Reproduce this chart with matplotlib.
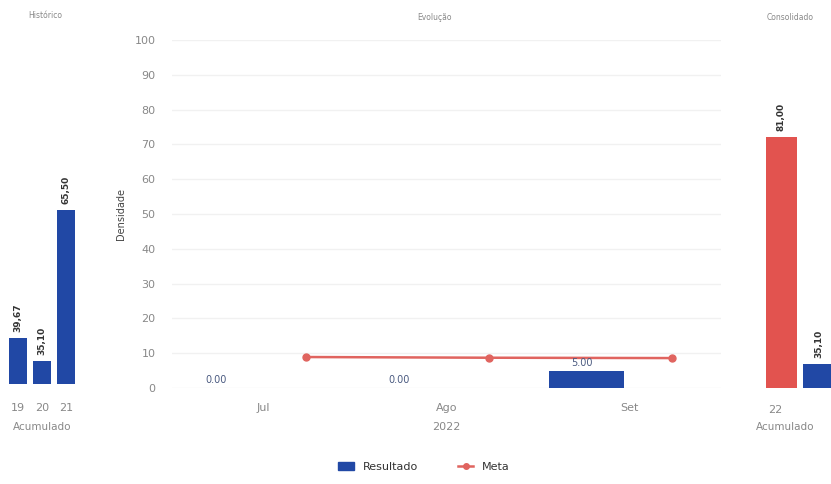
import matplotlib
matplotlib.use("Agg")
import matplotlib.pyplot as plt
from matplotlib.lines import Line2D
from matplotlib.patches import Patch
import numpy as np

# data
hist_years = ["19", "20", "21"]
hist_values = [39.67, 35.10, 65.50]
hist_labels = ["39,67", "35,10", "65,50"]

months = ["Jul", "Ago", "Set"]
resultado = [0.00, 0.00, 5.00]
meta = [8.9, 8.7, 8.6]

cons_year = "22"
cons_values = [81.00, 35.10]
cons_labels = ["81,00", "35,10"]

BLUE = "#2148a5"
RED = "#e2534f"
GRAY = "#888888"
W, H = 831, 484

fig = plt.figure(figsize=(W / 100, H / 100), dpi=100)
fig.patch.set_facecolor("white")


def px_axes(x0, x1, ytop, ybot):
    return fig.add_axes([x0 / W, 1 - ybot / H, (x1 - x0) / W, (ybot - ytop) / H])


def clean(ax):
    for s in ax.spines.values():
        s.set_visible(False)
    ax.tick_params(length=0)


# left panel - Histórico
ax1 = px_axes(6, 78, 39, 384)
clean(ax1)
x1 = np.arange(len(hist_years))
ax1.bar(x1, hist_values, width=0.75, color=BLUE)
ax1.set_xlim(-0.5, 2.5)
ax1.set_ylim(30.4, 100)
ax1.set_yticks([])
ax1.set_xticks(x1)
ax1.set_xticklabels(hist_years, fontsize=8, color=GRAY)
ax1.tick_params(axis="x", pad=14)
for xi, v, lab in zip(x1, hist_values, hist_labels):
    ax1.annotate(lab, (xi, v), xytext=(0, 4), textcoords="offset points",
                 rotation=90, ha="center", va="bottom", fontsize=6.5,
                 fontweight="bold", color="#333333")
fig.text(42 / W, 1 - 427 / H, "Acumulado", fontsize=7.5, color=GRAY,
         ha="center", va="center")
fig.text(45 / W, 1 - 15 / H, "Histórico", fontsize=5.5, color=GRAY,
         ha="center", va="center")

# center panel - Evolução
ax2 = px_axes(172, 721, 40, 388)
clean(ax2)
x2 = np.arange(len(months))
ax2.bar(x2 - 0.235, resultado, width=0.41, color=BLUE, label="Resultado")
ax2.plot(x2 + 0.23, meta, color="#e0645f", lw=1.8, marker="o", ms=5,
         label="Meta")
ax2.set_xlim(-0.5, 2.5)
ax2.set_ylim(0, 100)
ax2.set_yticks(range(0, 101, 10))
ax2.tick_params(axis="y", labelsize=8, labelcolor=GRAY, pad=12)
ax2.set_xticks(x2)
ax2.set_xticklabels(months, fontsize=8, color=GRAY)
ax2.tick_params(axis="x", pad=11)
ax2.grid(axis="y", color="#f1f1f1", lw=1)
ax2.set_axisbelow(True)
ax2.set_ylabel("Densidade", fontsize=7, color="#444444", labelpad=6)
ax2.set_xlabel("2022", fontsize=8, color=GRAY, labelpad=6)
for xi, v in zip(x2, resultado):
    ax2.annotate(f"{v:.2f}", (xi - 0.26, v), xytext=(0, 2),
                 textcoords="offset points", ha="center", va="bottom",
                 fontsize=7, color="#4a5a80")
fig.text(434 / W, 1 - 18 / H, "Evolução", fontsize=5.5, color=GRAY,
         ha="center", va="center")

# right panel - Consolidado
ax3 = px_axes(759, 831, 43, 388)
clean(ax3)
ax3.bar([0, 1], cons_values, width=0.84, color=[RED, BLUE])
ax3.set_xlim(-0.6, 1.34)
ax3.set_ylim(30.25, 100)
ax3.set_yticks([])
ax3.set_xticks([-0.15])
ax3.set_xticklabels([cons_year], fontsize=8, color=GRAY)
ax3.tick_params(axis="x", pad=12)
for xi, v, lab in zip([0, 1], cons_values, cons_labels):
    ax3.annotate(lab, (xi, v), xytext=(0, 4), textcoords="offset points",
                 rotation=90, ha="center", va="bottom", fontsize=6.5,
                 fontweight="bold", color="#333333", annotation_clip=False)
fig.text(785 / W, 1 - 427 / H, "Acumulado", fontsize=7.5, color=GRAY,
         ha="center", va="center")
fig.text(790 / W, 1 - 18 / H, "Consolidado", fontsize=5.5, color=GRAY,
         ha="center", va="center")

# legend
handles = [Patch(color=BLUE, label="Resultado"),
           Line2D([0], [0], color="#e0645f", lw=1.8, marker="o", ms=4,
                  label="Meta")]
fig.legend(handles=handles, loc="center", bbox_to_anchor=(424 / W, 1 - 467 / H),
           ncol=2, frameon=False, fontsize=8, handlelength=1.4,
           columnspacing=3.6, labelcolor="#333333")

fig.savefig("out.png", dpi=100, facecolor="white")
